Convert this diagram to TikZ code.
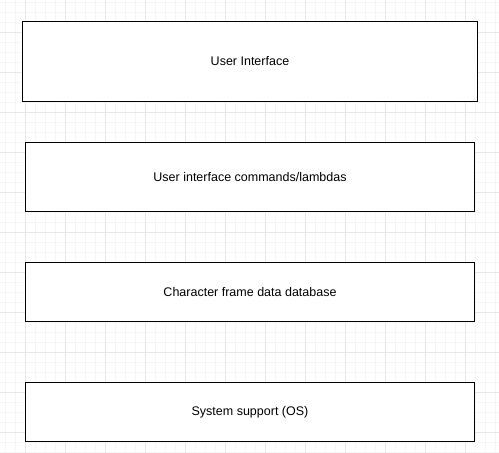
\documentclass[tikz,border=0pt]{standalone}
\usepackage{fontspec}
\setmainfont{Liberation Sans}
\definecolor{gridmajor}{HTML}{E8E8E8}
\definecolor{gridminor}{HTML}{F6F6F6}
\begin{document}
\begin{tikzpicture}[x=1pt,y=-1pt,
  layer/.style={draw=black, line width=1pt, fill=white, anchor=north west, inner sep=0pt,
    font=\fontsize{12.5}{14}\selectfont, align=center}]
\useasboundingbox (0,0) rectangle (499,453);
\fill[white] (0,0) rectangle (499,453);
% minor grid
\foreach \x in {5,15,...,495} \draw[gridminor, line width=1pt] (\x,0) -- (\x,453);
\foreach \y in {2,12,...,452} \draw[gridminor, line width=1pt] (0,\y) -- (499,\y);
% major grid
\foreach \x in {25,65,...,495} \draw[gridmajor, line width=1pt] (\x,0) -- (\x,453);
\foreach \y in {32,72,...,452} \draw[gridmajor, line width=1pt] (0,\y) -- (499,\y);
% layers
\node[layer, minimum width=455pt, minimum height=80pt] (ui) at (22,21) {User Interface};
\node[layer, minimum width=449pt, minimum height=69pt] (cmd) at (25,142) {User interface commands/lambdas};
\node[layer, minimum width=449pt, minimum height=59pt] (db) at (25,262) {Character frame data database};
\node[layer, minimum width=449pt, minimum height=59pt] (os) at (25,382) {System support (OS)};
\end{tikzpicture}
\end{document}
